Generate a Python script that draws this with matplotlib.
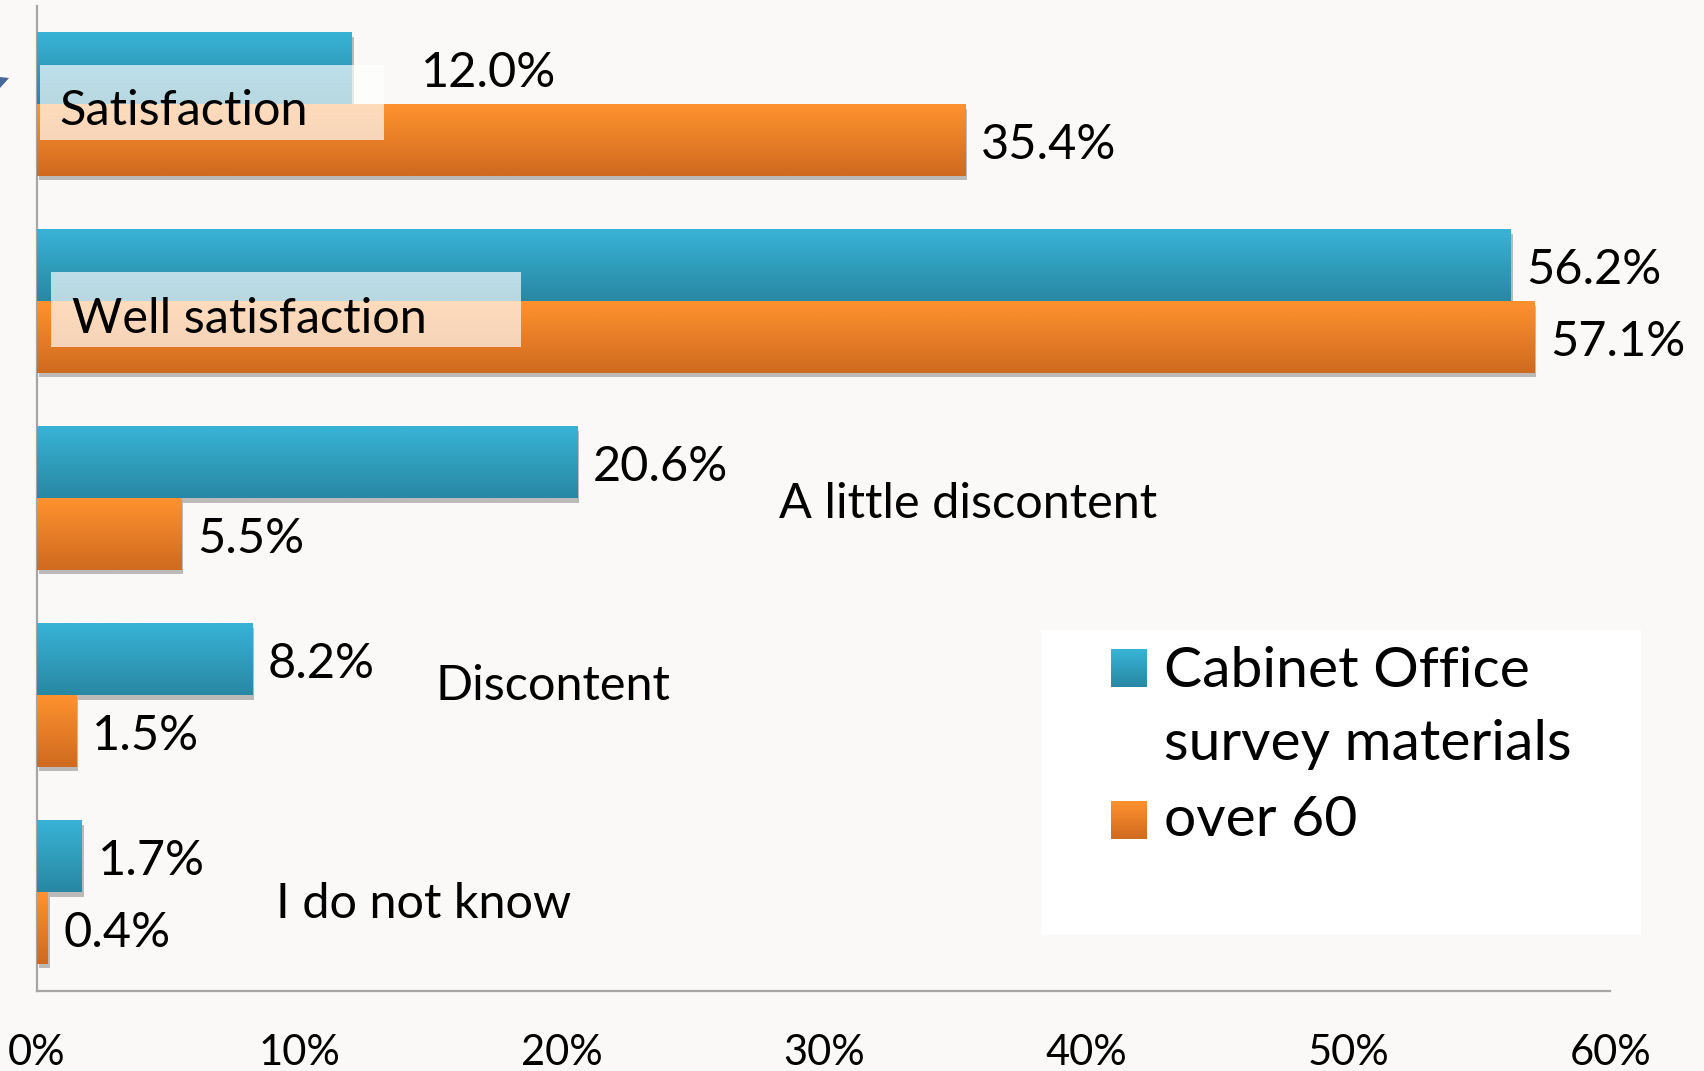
"""
Satisfaction survey: Cabinet Office materials vs. over-60 respondents (horizontal bars)
"""

import numpy as np
import matplotlib
matplotlib.use("Agg")
import matplotlib.pyplot as plt
import matplotlib.patheffects as pe
from matplotlib.colors import LinearSegmentedColormap
from matplotlib.patches import Rectangle, Polygon

plt.rcParams['font.family'] = ['Lato', 'DejaVu Sans']

# --- data -------------------------------------------------------------------
categories = ["Satisfaction", "Well satisfaction", "A little discontent",
              "Discontent", "I do not know"]
cabinet_office = [12.0, 56.2, 20.6, 8.2, 1.7]
over_60 = [35.4, 57.1, 5.5, 1.5, 0.4]
series_names = ["Cabinet Office\nsurvey materials", "over 60"]
x_ticks = [0, 10, 20, 30, 40, 50, 60]

# --- style ------------------------------------------------------------------
BG = '#FAF9F7'
BLUE_TOP, BLUE_BOT = '#38B3D6', '#2888A3'
ORANGE_TOP, ORANGE_BOT = '#FF922F', '#CF6A1F'
BAR_H = 0.364
FS = 35

fig = plt.figure(figsize=(17.04, 10.71), dpi=100, facecolor=BG)
ax = fig.add_axes([0.0217, 0.0747, 0.9233, 0.9197], facecolor=BG)

y = np.arange(len(categories))
shadow = [pe.SimplePatchShadow(offset=(1.5, -3), shadow_rgbFace='k', alpha=0.25), pe.Normal()]
bars_blue = ax.barh(y - BAR_H / 2, cabinet_office, height=BAR_H, color=BLUE_BOT,
                    path_effects=shadow, zorder=2)
bars_orange = ax.barh(y + BAR_H / 2, over_60, height=BAR_H, color=ORANGE_BOT,
                      path_effects=shadow, zorder=2)


def gradient_cmap(top, bot):
    return LinearSegmentedColormap.from_list('g', [top, bot])


GRAD = np.linspace(0, 1, 64).reshape(-1, 1)


def paint_gradient(bars, top, bot):
    cmap = gradient_cmap(top, bot)
    for b in bars:
        x0, y0 = b.get_x(), b.get_y()
        x1, y1 = x0 + b.get_width(), y0 + b.get_height()
        # y axis is inverted: y0 is the visual top
        ax.imshow(GRAD, cmap=cmap, aspect='auto', origin='upper',
                  extent=[x0, x1, y1, y0], zorder=3, interpolation='bilinear')


paint_gradient(bars_blue, BLUE_TOP, BLUE_BOT)
paint_gradient(bars_orange, ORANGE_TOP, ORANGE_BOT)
ax.set_xlim(0, 60)
ax.set_ylim(len(categories) - 0.5, -0.5)

# value labels
for vals, offs, yy in [(cabinet_office, [50, 11.5, 11.5, 11.5, 11.5], y - BAR_H / 2),
                       (over_60, [11.5] * 5, y + BAR_H / 2)]:
    for v, o, yc in zip(vals, offs, yy):
        ax.annotate(f"{v:.1f}%", xy=(v, yc), xytext=(o, -3), textcoords='offset points',
                    va='center', ha='left', fontsize=FS, zorder=6)

# category labels (placed by hand like in the original sheet)
label_pos = [(0.87, 0.035), (1.33, 1.09), (28.3, 2.03), (15.2, 2.95), (9.1, 4.06)]
label_boxes = {0: (0.12, -0.20, 13.1, 0.38), 1: (0.54, 0.85, 17.9, 0.38)}
for i, (name, (lx, ly)) in enumerate(zip(categories, label_pos)):
    if i in label_boxes:
        bx, by, bw, bh = label_boxes[i]
        ax.add_patch(Rectangle((bx, by), bw, bh, facecolor='white', alpha=0.68,
                               edgecolor='none', zorder=4))
    ax.text(lx, ly, name, va='center', ha='left', fontsize=FS, zorder=5)

# axes styling
ax.set_xticks(x_ticks)
ax.set_xticklabels([f"{t}%" for t in x_ticks], fontsize=30)
ax.set_yticks([])
ax.tick_params(axis='x', length=0, pad=31)
for s in ['top', 'right']:
    ax.spines[s].set_visible(False)
for s in ['left', 'bottom']:
    ax.spines[s].set_color('#A6A6A6')
    ax.spines[s].set_linewidth(1.6)

# legend (drawn by hand: handle sits on the first line of a two-line label)
W, H = 1704, 1071
fig.patches.append(Rectangle((1041 / W, 1 - 935 / H), 600 / W, 305 / H,
                             transform=fig.transFigure, facecolor='white',
                             edgecolor='none', zorder=1))
for (top, bot), (sq_y0, sq_y1), name, ty in [((BLUE_TOP, BLUE_BOT), (649, 687), series_names[0], 705),
                                              ((ORANGE_TOP, ORANGE_BOT), (801, 839), series_names[1], 818)]:
    sq = fig.add_axes([1111 / W, 1 - sq_y1 / H, 36 / W, (sq_y1 - sq_y0) / H])
    sq.imshow(GRAD, cmap=gradient_cmap(top, bot), aspect='auto', interpolation='bilinear')
    sq.set_axis_off()
    sq.set_zorder(3)
    fig.text(1164 / W, 1 - (ty + 3) / H, name, fontsize=41, va='center', ha='left',
             linespacing=1.55, zorder=3)

# small arrow fragment at the left edge
fig.patches.append(Polygon([(0, 1 - 77 / H), (9 / W, 1 - 78 / H), (0, 1 - 88 / H)],
                           closed=True, transform=fig.transFigure,
                           facecolor='#46689A', edgecolor='none'))

fig.savefig('out.png', dpi=100, facecolor=BG)
